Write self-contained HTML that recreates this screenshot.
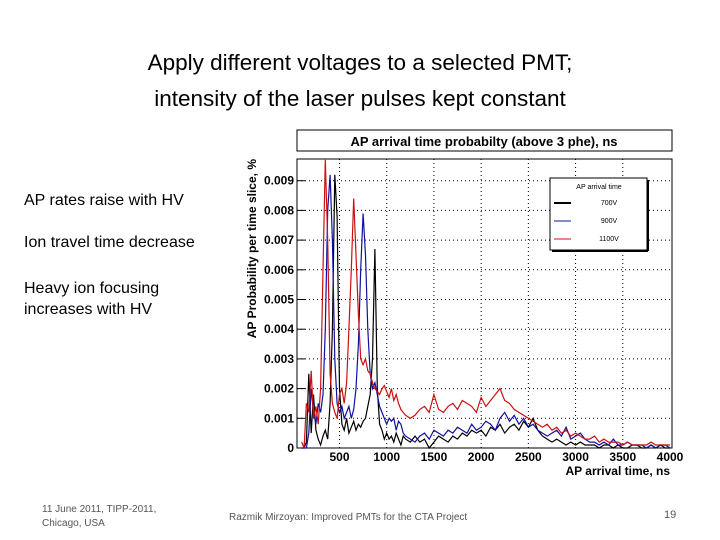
<!DOCTYPE html>
<html><head><meta charset="utf-8"><style>
body{margin:0;width:720px;height:540px;background:#fff;position:relative;overflow:hidden;font-family:"Liberation Sans",sans-serif}
.t{position:absolute;color:#000}
</style></head><body>
<div class="t" style="left:0;width:720px;top:45px;text-align:center;font-size:22.5px;line-height:36px">Apply different voltages to a selected PMT;<br>intensity of the laser pulses kept constant</div>
<div class="t" style="left:24px;top:192px;font-size:16px">AP rates raise with HV</div>
<div class="t" style="left:24px;top:234px;font-size:16px">Ion travel time decrease</div>
<div class="t" style="left:24px;top:278px;font-size:16px;line-height:21px">Heavy ion focusing<br>increases with HV</div>
<div class="t" style="left:42px;top:503px;font-size:10px;color:#555;line-height:14px">11 June 2011, TIPP-2011,<br>Chicago, USA</div>
<div class="t" style="left:229px;top:512px;font-size:10px;color:#555">Razmik Mirzoyan: Improved PMTs for the CTA Project</div>
<div class="t" style="left:664px;top:509px;font-size:11px;color:#555">19</div>
<svg id="chart" width="720" height="540" style="position:absolute;left:0;top:0"></svg>
<script>
const times=[];for(let t=100;t<=1200;t+=25)times.push(t);for(let t=1250;t<=4000;t+=50)times.push(t);
const s700=[0,0,2,25,5,18,6,3,1,4,6,3,15,40,92,78,20,8,6,10,5,7,9,6,8,7,9,10,14,18,30,67,20,8,6,3,5,3,4,2,5,3,1,4,3,
2,4,2,3,0,2,4,3,2,4,3,5,4,6,5,6,4,7,6,8,5,7,8,6,9,7,10,6,4,3,2,3,2,1,2,1,2,1,1,1,0,1,1,0,1,0,0,1,1,0,0,1,0,1,0,0];
const s900=[0,0,0,5,20,12,8,15,12,18,40,80,92,70,30,15,12,14,10,12,14,10,13,20,35,60,79,65,40,25,20,22,18,14,12,10,8,10,9,10,6,9,8,5,4,
3,2,4,5,3,6,5,4,6,5,7,6,5,8,6,7,9,8,6,10,12,9,11,8,10,7,8,6,5,4,5,6,4,7,3,4,5,3,2,2,1,2,1,3,1,1,2,1,1,1,0,1,0,1,1,0];
const s1100=[2,0,15,12,26,10,14,8,20,60,97,70,25,15,12,10,18,20,15,22,40,60,84,65,45,30,28,30,26,25,22,20,19,18,20,21,19,17,20,16,18,15,13,12,11,
10,11,13,14,12,18,13,12,14,15,13,16,15,14,12,17,14,16,18,20,16,15,13,12,11,10,9,8,7,8,6,7,5,6,4,5,4,3,3,4,2,3,2,2,2,1,2,1,1,1,1,2,1,1,1,1];
const xTicks=[500,1000,1500,2000,2500,3000,3500,4000];
const yTicks=[0,0.001,0.002,0.003,0.004,0.005,0.006,0.007,0.008,0.009];
const yLabels=["0","0.001","0.002","0.003","0.004","0.005","0.006","0.007","0.008","0.009"];
const L=297,R=670,T=159,B=448,X0=50,X1=4000;
const xs=v=>L+(v-X0)/(X1-X0)*(R-L);
const ys=v=>B-v/0.001*29.7;
const svg=document.getElementById('chart');const NS='http://www.w3.org/2000/svg';
function mk(tag,at,txt){const e=document.createElementNS(NS,tag);for(const k in at)e.setAttribute(k,at[k]);if(txt!=null)e.textContent=txt;svg.appendChild(e);return e;}
let e=mk('rect',{x:297,y:130,width:375,height:21,fill:'#fff',stroke:'#000','stroke-width':1});

e=mk('text',{x:484,y:146,'text-anchor':'middle','font-size':13,'font-weight':'bold'},'AP arrival time probabilty (above 3 phe), ns');

e=mk('rect',{x:L,y:T,width:R-L+2,height:B-T,fill:'#fff',stroke:'#000'});

xTicks.forEach(v=>{const x=xs(v);
 if(v<4000){e=mk('line',{x1:x,x2:x,y1:T,y2:B,stroke:'#000','stroke-dasharray':'1,3','stroke-width':1});}
 e=mk('text',{x:x,y:461,'text-anchor':'middle','font-size':12,'font-weight':'bold'},String(v));});
yTicks.forEach((v,i)=>{const y=ys(v);
 if(v>0){e=mk('line',{x1:L,x2:R,y1:y,y2:y,stroke:'#000','stroke-dasharray':'1,3'});}
 e=mk('text',{x:294,y:y+4,'text-anchor':'end','font-size':12,'font-weight':'bold'},yLabels[i]);
 mk('line',{x1:L,x2:L+8,y1:y,y2:y,stroke:'#000'});});
e=mk('text',{x:670,y:475,'text-anchor':'end','font-size':12,'font-weight':'bold'},'AP arrival time, ns');

e=mk('text',{x:0,y:0,'text-anchor':'end','font-size':12,'font-weight':'bold',transform:'translate(256,159) rotate(-90)'},'AP Probability per time slice, %');

function series(vals,col,name){const n=Math.min(vals.length,times.length);let d='';
 for(let i=0;i<n;i++){d+=(i?'L':'M')+xs(times[i]).toFixed(1)+','+Math.max(T,ys(vals[i]*1e-4)).toFixed(1);}
 const p=mk('path',{d:d,fill:'none',stroke:col,'stroke-width':1.2});
 }
series(s700,'#000','series-700v');series(s900,'#1010a0','series-900v');series(s1100,'#cc1010','series-1100v');
e=mk('rect',{x:550,y:178,width:97,height:72,fill:'#fff',stroke:'#000','stroke-width':1});

mk('line',{x1:648,x2:648,y1:180,y2:251,stroke:'#000','stroke-width':2});mk('line',{x1:552,x2:648,y1:251,y2:251,stroke:'#000','stroke-width':2});
mk('text',{x:599,y:189,'text-anchor':'middle','font-size':7},'AP arrival time');
[['#000','700V',205,2],['#1010a0','900V',223,1],['#cc1010','1100V',241,1]].forEach(l=>{
 e=mk('line',{x1:554,x2:571,y1:l[2]-2,y2:l[2]-2,stroke:l[0],'stroke-width':l[3]});
 mk('text',{x:609,y:l[2],'text-anchor':'middle','font-size':7},l[1]);});
</script>
</body></html>
